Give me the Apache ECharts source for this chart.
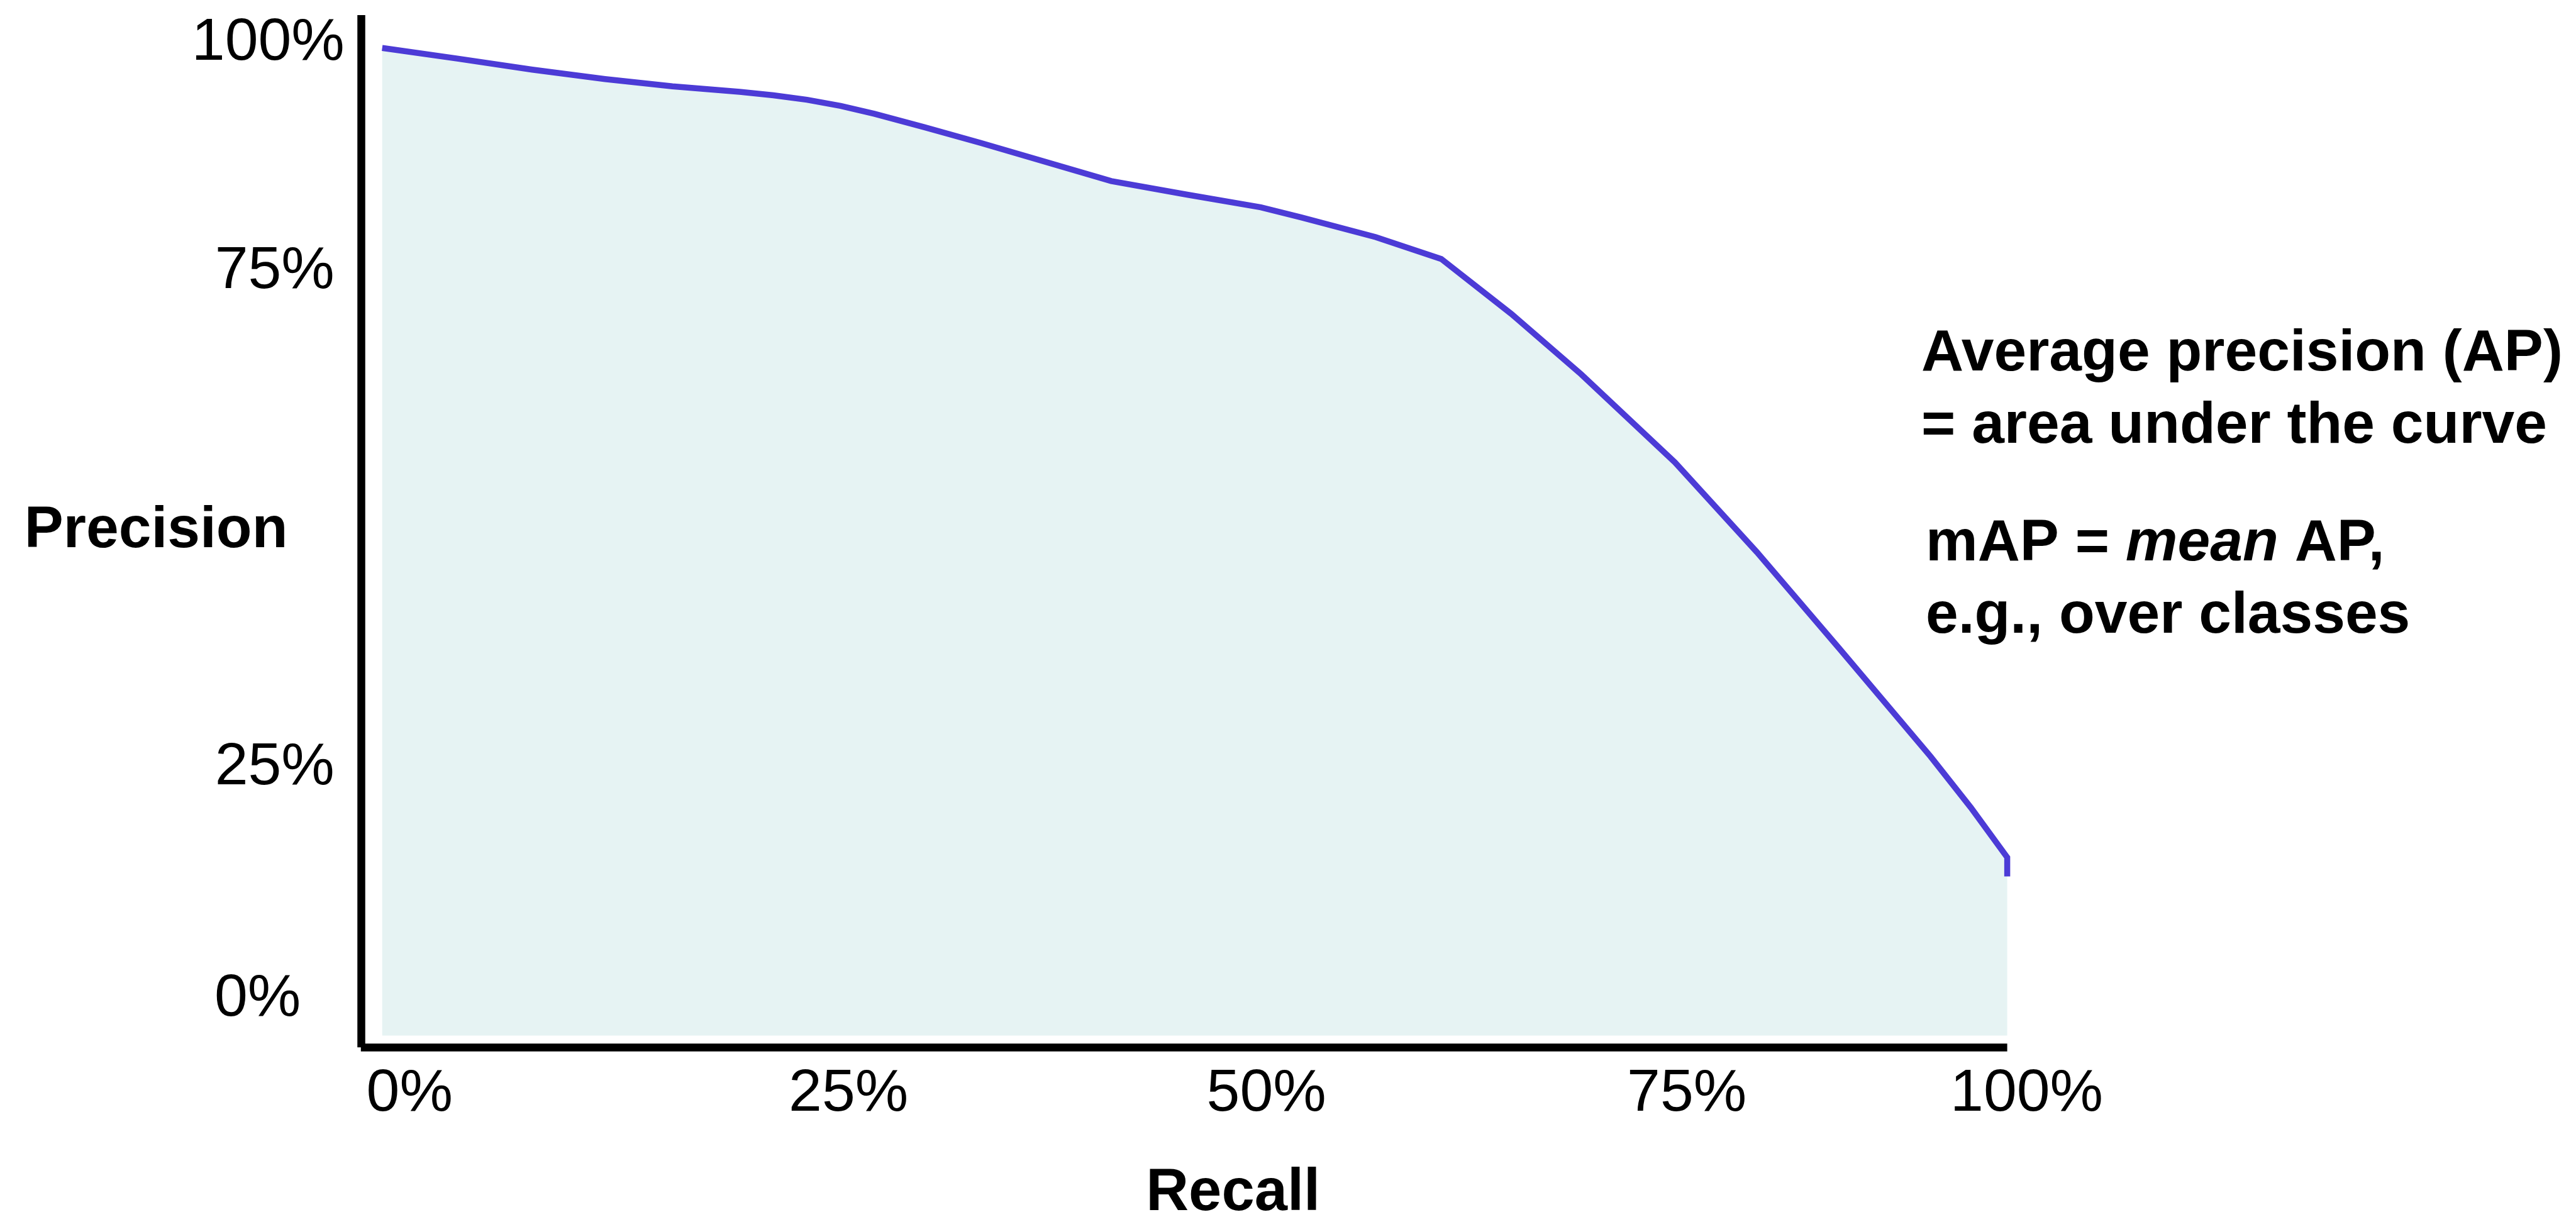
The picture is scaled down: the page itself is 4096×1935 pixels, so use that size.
<!DOCTYPE html>
<html>
<head>
<meta charset="utf-8">
<title>Precision–Recall curve</title>
<script src="https://cdn.jsdelivr.net/npm/echarts@6/dist/echarts.min.js"></script>
<style>
  html, body { margin: 0; padding: 0; background: #ffffff; }
  #chart { width: 4096px; height: 1935px; }
</style>
</head>
<body>
<div id="chart"></div>
<script>
// Precision–recall curve (values in percent)
const recall = [0, 4.62, 9.24, 13.72, 17.86, 22.00, 24.07, 26.14, 28.21, 30.28, 33.38, 36.83,
  44.86, 49.48, 54.07, 56.55, 61.14, 65.17, 69.48, 73.79, 79.55, 84.59, 89.66,
  95.28, 97.76, 100, 100];
const precision = [100, 98.92, 97.80, 96.85, 96.11, 95.55, 95.21, 94.75, 94.13, 93.33, 91.97, 90.38,
  86.52, 85.16, 83.86, 82.84, 80.85, 78.64, 73.08, 66.95, 58.04, 48.96, 39.21,
  28.26, 23.09, 18.04, 16.11];

// Tick labels shown on each axis
const recallTicks = [0, 25, 50, 75, 100];
const precisionTicks = [0, 25, 75, 100];

// Axis titles and side notes
const xTitle = 'Recall';
const yTitle = 'Precision';
const apNote = ['Average precision (AP)', '= area under the curve'];
const mapNote = { before: 'mAP = ', italic: 'mean', after: ' AP,', second: 'e.g., over classes' };

const FONT = '"Liberation Sans", Arial, Helvetica, sans-serif';
const LABEL_SIZE = 95;
const BOLD_SIZE = 93;

// Hand-tuned label nudges (pixels) for the illustration's label placement
const xLabelShift = { 0: 87, 25: 191, 50: 228, 75: 273, 100: 62 };
const yLabelShift = { 0: [69.5, 116], 25: [16, 67], 75: [16, 75], 100: [0, 15] };

const xRich = {};
recallTicks.forEach(v => {
  xRich['x' + v] = { fontSize: LABEL_SIZE, fontFamily: FONT, color: '#000', padding: [0, 0, 0, xLabelShift[v]] };
});
const yRich = {};
precisionTicks.forEach(v => {
  const s = yLabelShift[v];
  yRich['y' + v] = { fontSize: LABEL_SIZE, fontFamily: FONT, color: '#000', padding: [0, s[0], s[1], 0] };
});

const boldStyle = { fontSize: BOLD_SIZE, fontWeight: 'bold', fontFamily: FONT, color: '#000', lineHeight: 115 };
const italicStyle = Object.assign({}, boldStyle, { fontStyle: 'italic' });

const chart = echarts.init(document.getElementById('chart'), null, { renderer: 'canvas' });

chart.setOption({
  backgroundColor: '#ffffff',
  animation: false,
  title: [
    {
      text: apNote.map(t => '{b|' + t + '}').join('\n'),
      left: 3055, top: 506, padding: 0,
      textStyle: { rich: { b: boldStyle } }
    },
    {
      text: '{b|' + mapNote.before + '}{i|' + mapNote.italic + '}{b|' + mapNote.after + '}\n{b|' + mapNote.second + '}',
      left: 3062, top: 808, padding: 0,
      textStyle: { rich: { b: boldStyle, i: italicStyle } }
    }
  ],
  grid: {
    left: 573.8, right: 904.4, top: 24, bottom: 269.7,
    containLabel: false,
    outerBoundsMode: 'none'
  },
  xAxis: {
    type: 'value',
    min: -1.312,
    max: 100,
    axisLine: { show: true, onZero: false, lineStyle: { color: '#000', width: 12.5, cap: 'butt' } },
    axisTick: { show: false },
    splitLine: { show: false },
    axisLabel: {
      customValues: recallTicks,
      formatter: v => '{x' + v + '|' + v + '%}',
      margin: 74,
      verticalAlign: 'middle',
      rich: xRich
    },
    name: xTitle,
    nameLocation: 'middle',
    nameGap: 233,
    nameMoveOverlap: false,
    nameTextStyle: {
      fontSize: 94, fontWeight: 'bold', fontFamily: FONT, color: '#000',
      align: 'center', verticalAlign: 'middle', padding: [0, 0, 0, 156]
    }
  },
  yAxis: {
    type: 'value',
    min: -1.191,
    max: 103.324,
    axisLine: { show: true, onZero: false, lineStyle: { color: '#000', width: 12.5, cap: 'butt' } },
    axisTick: { show: false },
    splitLine: { show: false },
    axisLabel: {
      customValues: precisionTicks,
      formatter: v => '{y' + v + '|' + v + '%}',
      margin: 26,
      align: 'right',
      verticalAlign: 'middle',
      rich: yRich
    },
    name: yTitle,
    nameLocation: 'middle',
    nameRotate: 0,
    nameGap: 325.7,
    nameMoveOverlap: false,
    nameTextStyle: {
      fontSize: 93, fontWeight: 'bold', fontFamily: FONT, color: '#000',
      align: 'center', verticalAlign: 'middle'
    }
  },
  series: [
    {
      type: 'line',
      data: recall.map((r, i) => [r, precision[i]]),
      symbol: 'none',
      showSymbol: false,
      silent: true,
      smooth: false,
      lineStyle: { color: '#4c3bd6', width: 9.5, cap: 'butt', join: 'miter' },
      areaStyle: { color: '#e6f3f3', opacity: 1, origin: 0 }
    }
  ]
});
</script>
</body>
</html>
